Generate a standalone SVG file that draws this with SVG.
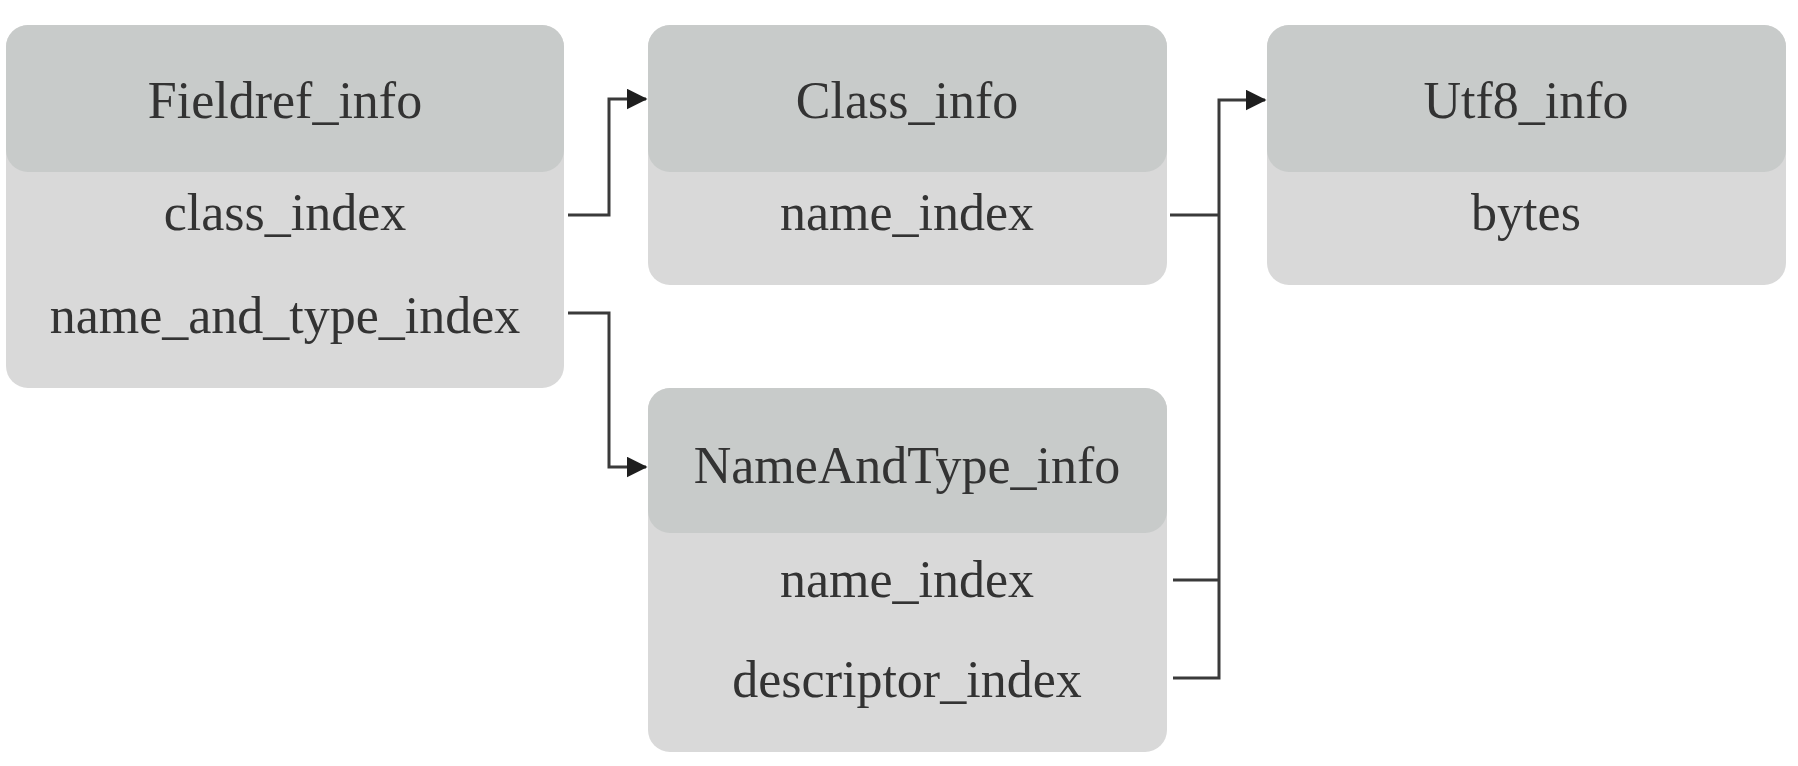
<svg xmlns="http://www.w3.org/2000/svg" width="1798" height="766" viewBox="0 0 1798 766">
<style>
.body{fill:#d9d9d9;}
.head{fill:#c8cbca;}
.t{font-family:"Liberation Serif","Times New Roman",serif;font-size:52px;fill:#333333;text-anchor:middle;}
.c{fill:none;stroke:#3a3a3a;stroke-width:3;}
</style>
<defs>
<marker id="arr" markerWidth="7" markerHeight="7" refX="6.5" refY="3.5" orient="auto" markerUnits="strokeWidth">
<path d="M0,0 L7,3.5 L0,7 z" fill="#1e1e1e"/>
</marker>
</defs>
<rect width="1798" height="766" fill="#ffffff"/>
<g id="fieldref">
<rect class="body" x="6" y="25" width="558" height="363" rx="22"/>
<rect class="head" x="6" y="25" width="558" height="147" rx="22"/>
<text class="t" x="285" y="118">Fieldref_info</text>
<text class="t" x="285" y="230">class_index</text>
<text class="t" x="285" y="333">name_and_type_index</text>
</g>
<g id="classinfo">
<rect class="body" x="648" y="25" width="519" height="260" rx="22"/>
<rect class="head" x="648" y="25" width="519" height="147" rx="22"/>
<text class="t" x="907" y="118">Class_info</text>
<text class="t" x="907" y="230">name_index</text>
</g>
<g id="utf8info">
<rect class="body" x="1267" y="25" width="519" height="260" rx="22"/>
<rect class="head" x="1267" y="25" width="519" height="147" rx="22"/>
<text class="t" x="1526" y="118">Utf8_info</text>
<text class="t" x="1526" y="230">bytes</text>
</g>
<g id="nameandtype">
<rect class="body" x="648" y="388" width="519" height="364" rx="22"/>
<rect class="head" x="648" y="388" width="519" height="145" rx="22"/>
<text class="t" x="907" y="483">NameAndType_info</text>
<text class="t" x="907" y="597">name_index</text>
<text class="t" x="907" y="697">descriptor_index</text>
</g>
<g id="connectors">
<path class="c" d="M568,215 H609 V99 H646" marker-end="url(#arr)"/>
<path class="c" d="M568,313 H609 V467 H646" marker-end="url(#arr)"/>
<path class="c" d="M1170,215 H1219"/>
<path class="c" d="M1173,580 H1219"/>
<path class="c" d="M1173,678 H1219 V100 H1265" marker-end="url(#arr)"/>
</g>
</svg>
